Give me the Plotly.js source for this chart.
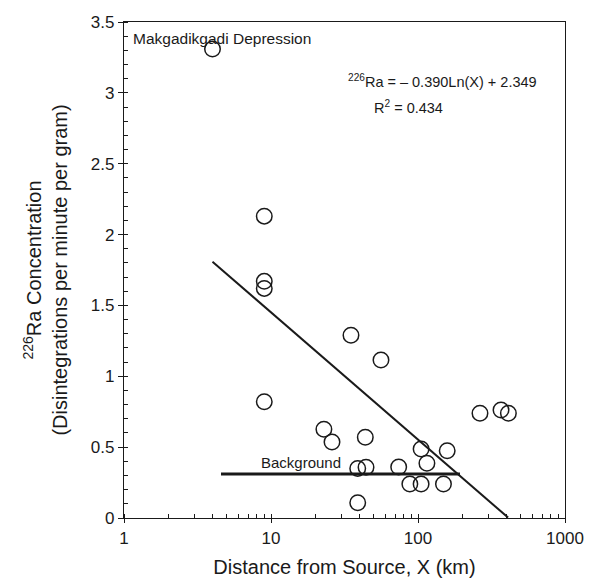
<!DOCTYPE html>
<html>
<head>
<meta charset="utf-8">
<script src="https://cdn.plot.ly/plotly-3.0.1.min.js"></script>
<style>html,body{margin:0;padding:0;background:#fff;}#chart{width:589px;height:586px;}</style>
</head>
<body>
<div id="chart"></div>
<script>
// Sample data: distance from source (km) and 226Ra concentration (dpm/g)
var distanceKm = [4, 9, 9, 9, 9, 35, 56, 22.9, 26, 43.8, 264, 367, 412, 105, 158, 115, 38.9, 44.3, 73.9, 88, 105, 149, 38.9];
var raConc     = [3.31, 2.13, 1.67, 1.62, 0.82, 1.29, 1.115, 0.626, 0.536, 0.57, 0.739, 0.762, 0.739, 0.487, 0.475, 0.386, 0.35, 0.358, 0.36, 0.24, 0.24, 0.24, 0.108];

// Regression line endpoints (226Ra = -0.390 Ln(X) + 2.349)
var fitX = [4, 410];
var fitY = [1.808, 0.003];

// Background level line
var bgX = [4.57, 193];
var bgY = [0.31, 0.31];

// Tick labels
var xTickVals = [1, 10, 100, 1000];
var xTickText = ["1", "10", "100", "1000"];
var yTickVals = [0, 0.5, 1, 1.5, 2, 2.5, 3, 3.5];
var yTickText = ["0", "0.5", "1", "1.5", "2", "2.5", "3", "3.5"];

var ink = "#1a1a1a";
var font = "Liberation Sans, Arial, Helvetica, sans-serif";

var traces = [
  {
    x: fitX, y: fitY, type: "scatter", mode: "lines",
    line: {color: ink, width: 2}, hoverinfo: "skip", showlegend: false
  },
  {
    x: bgX, y: bgY, type: "scatter", mode: "lines",
    line: {color: ink, width: 3}, hoverinfo: "skip", showlegend: false
  },
  {
    x: distanceKm, y: raConc, type: "scatter", mode: "markers",
    marker: {symbol: "circle-open", size: 15.5, color: ink, line: {color: ink, width: 1.5}},
    showlegend: false
  }
];

var layout = {
  width: 589, height: 586,
  margin: {l: 124, r: 24, t: 22, b: 68},
  paper_bgcolor: "#fff", plot_bgcolor: "#fff",
  font: {family: font, color: ink, size: 17},
  showlegend: false,
  xaxis: {
    type: "log", range: [0, 3],
    tickvals: xTickVals, ticktext: xTickText,
    ticks: "outside", ticklen: 4, tickwidth: 1, tickcolor: ink,
    minor: {ticks: "inside", ticklen: 4, tickwidth: 1, tickcolor: ink, dtick: "D1", showgrid: false},
    showgrid: false, zeroline: false,
    showline: true, linecolor: ink, linewidth: 1.2, mirror: true,
    tickfont: {size: 17, family: font, color: ink},
    title: {text: "Distance from Source, X (km)", font: {size: 20, family: font, color: ink}, standoff: 13}
  },
  yaxis: {
    range: [0, 3.5],
    tickvals: yTickVals, ticktext: yTickText,
    ticks: "outside", ticklen: 5, tickwidth: 1, tickcolor: ink,
    minor: {ticks: "inside", ticklen: 4, tickwidth: 1, tickcolor: ink, dtick: 0.1, showgrid: false},
    showgrid: false, zeroline: false,
    showline: true, linecolor: ink, linewidth: 1.2, mirror: true,
    tickfont: {size: 17, family: font, color: ink},
    title: {text: "<sup>226</sup>Ra Concentration<br>(Disintegrations per minute per gram)", font: {size: 20, family: font, color: ink}, standoff: 17}
  },
  annotations: [
    {x: Math.log10(1.12), y: 3.387, xref: "x", yref: "y", text: "Makgadikgadi Depression",
     showarrow: false, xanchor: "left", yanchor: "middle", font: {size: 15.5, family: font, color: ink}},
    {x: Math.log10(32.5), y: 3.084, xref: "x", yref: "y", text: "<sup>226</sup>Ra = \u2013 0.390Ln(X) + 2.349",
     showarrow: false, xanchor: "left", yanchor: "middle", font: {size: 14.5, family: font, color: ink}},
    {x: Math.log10(48.5), y: 2.90, xref: "x", yref: "y", text: "R<sup>2</sup> = 0.434",
     showarrow: false, xanchor: "left", yanchor: "middle", font: {size: 14.5, family: font, color: ink}},
    {x: Math.log10(16), y: 0.395, xref: "x", yref: "y", text: "Background",
     showarrow: false, xanchor: "center", yanchor: "middle", font: {size: 15, family: font, color: ink}}
  ]
};

Plotly.newPlot("chart", traces, layout, {displayModeBar: false, staticPlot: true});
</script>
</body>
</html>
